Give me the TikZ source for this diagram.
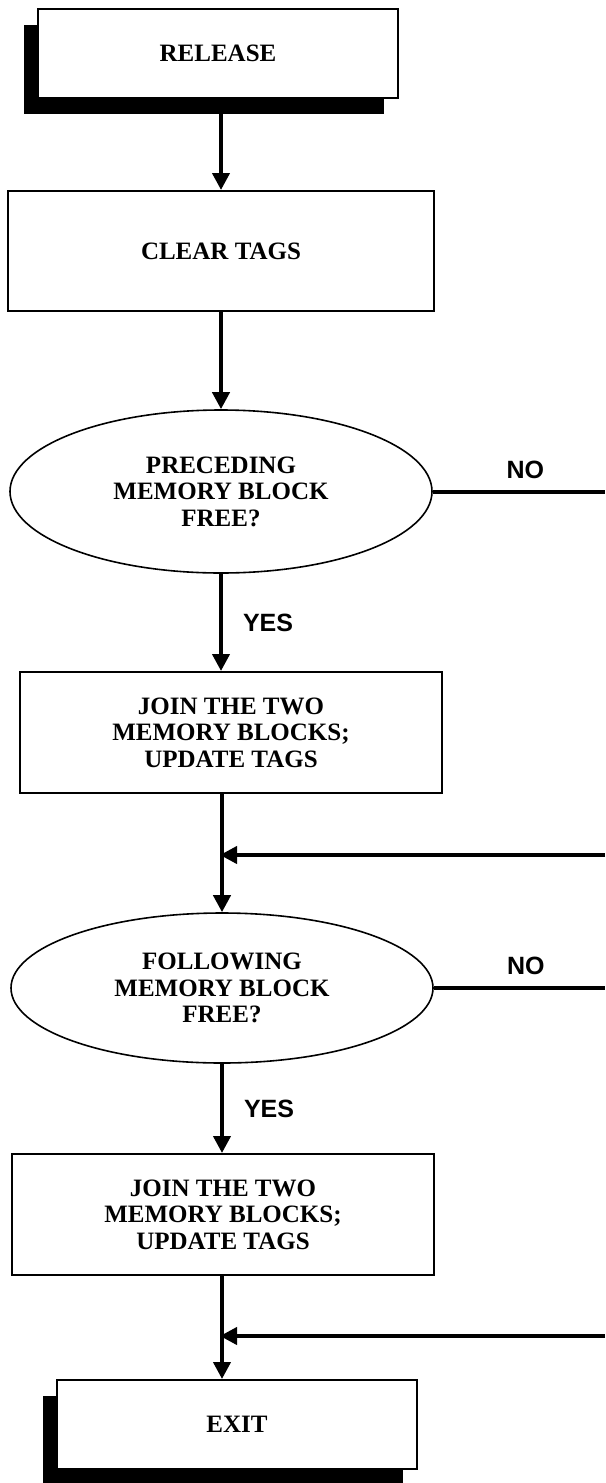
\documentclass[tikz,border=0pt]{standalone}
\usepackage{fontspec}
\setmainfont{Liberation Serif}
\setsansfont{Liberation Sans}
\usetikzlibrary{shapes.geometric, arrows.meta, shadows}
\tikzstyle{startstop} = [rectangle, 
minimum width=360pt, 
minimum height=89pt,
text centered, 
draw=black, 
line width=2pt,
fill=white,
drop shadow={shadow xshift=-14pt, shadow yshift=-16pt, fill=black, opacity=1}]
\tikzstyle{coord} = [
coordinate
]
\tikzstyle{process} = [rectangle, 
minimum width=422pt, 
minimum height=121pt, 
text centered, 
align=center,
draw=black, 
line width=2pt,
fill=white]
\tikzstyle{decision} = [ellipse, 
minimum width=422pt, 
minimum height=163pt, 
inner sep=0pt,
text centered, 
align=center,
draw=black, 
line width=1.6pt]
\tikzstyle{answer} = [font=\sffamily\bfseries\fontsize{25}{30}\selectfont, inner sep=0pt]
\tikzstyle{arrow} = [line width=4pt, -{Triangle[length=17pt, width=17pt]}]
\tikzstyle{flow} = [line width=4pt]

\begin{document}
\begin{tikzpicture}[x=1pt, y=1pt, font=\bfseries\fontsize{25}{26.5}\selectfont]
		\useasboundingbox (0,0) rectangle (605,-1483);
		\node (release) [startstop] at (218,-53.5) {RELEASE};
		\node (clear) [process, below of=release, node distance=197.5pt, xshift=3pt, minimum width=426pt, minimum height=120pt] {CLEAR TAGS};
		\node (pre) [decision, below of=clear, node distance=240.5pt] {PRECEDING\\ MEMORY BLOCK\\ FREE?};
		\node (join1) [process, below of=pre, node distance=241pt, xshift=10pt] {JOIN THE TWO\\ MEMORY BLOCKS;\\ UPDATE TAGS};
		\node (fol) [decision, below of=join1, node distance=255.5pt, xshift=-9pt, minimum height=150pt] {FOLLOWING\\ MEMORY BLOCK\\ FREE?};
		\node (join2) [process, below of=fol, node distance=226.5pt, xshift=1pt] {JOIN THE TWO\\ MEMORY BLOCKS;\\ UPDATE TAGS};
		\node (exit) [startstop, below of=join2, node distance=210pt, xshift=14pt] {EXIT};
	
		\draw [arrow] (release.south -| pre) -- (clear.north -| pre);
		\draw [arrow] (clear) -- (pre);
		\draw [arrow] (pre.south) -- node[answer, anchor=west, xshift=20pt] {YES} (pre.south |- join1.north);
		\draw [arrow] (join1.south -| fol) -- (fol);
		\draw [arrow] (fol.south) -- node[answer, anchor=west, xshift=20pt] {YES} (fol.south |- join2.north);
		\draw [arrow] (join2.south -| fol) -- (exit.north -| fol);
	
		\node (c1) [coord, right of=pre, node distance=384pt] {};
		\node (c2) [coord, below of=c1, node distance=363.5pt] {};
		\node (c3) [coord, right of=fol, node distance=383pt] {};
		\node (c4) [coord, below of=c3, node distance=348pt] {};
		\coordinate (m1) at (c2 -| fol);
		\coordinate (m2) at (c4 -| fol);
		\draw [flow] (pre) -- node[answer, anchor=south, xshift=6.5pt, yshift=11pt] {NO} (c1);
		\draw [arrow, shorten >=-2pt] (c2) -- (m1);
		\draw [flow] (fol) -- node[answer, anchor=south, xshift=6.5pt, yshift=11pt] {NO} (c3);
		\draw [arrow, shorten >=-2pt] (c4) -- (m2);
	\end{tikzpicture}
\end{document}
